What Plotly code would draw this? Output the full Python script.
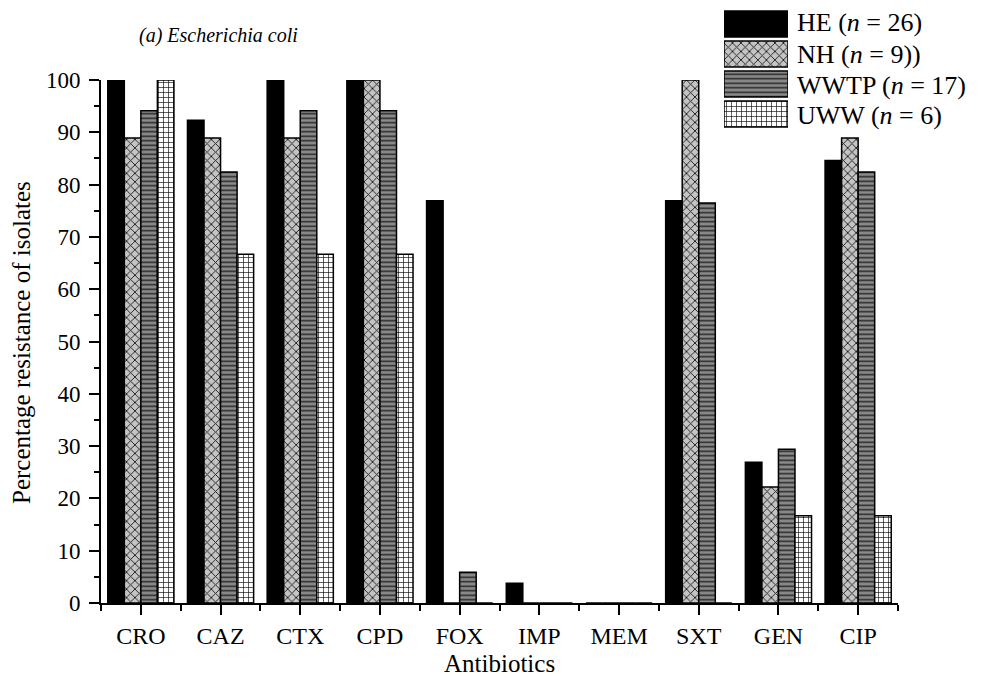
import plotly.graph_objects as go

antibiotics = ["CRO", "CAZ", "CTX", "CPD", "FOX", "IMP", "MEM", "SXT", "GEN", "CIP"]
he   = [100, 92.3, 100, 100, 76.9, 3.8, 0, 76.9, 26.9, 84.6]
nh   = [88.9, 88.9, 88.9, 100, 0, 0, 0, 100, 22.2, 88.9]
wwtp = [94.1, 82.4, 94.1, 94.1, 5.9, 0, 0, 76.5, 29.4, 82.4]
uww  = [100, 66.7, 66.7, 66.7, 0, 0, 0, 0, 16.7, 16.7]
series_names = ["HE (<i>n</i> = 26)", "NH (<i>n</i> = 9))", "WWTP (<i>n</i> = 17)", "UWW (<i>n</i> = 6)"]
yticks = [0, 10, 20, 30, 40, 50, 60, 70, 80, 90, 100]

FONT = "Liberation Serif, Times New Roman, serif"
W, H = 984, 678

styles = [
    dict(color="black", pattern=dict(shape="")),
    dict(color="#c4c4c4", pattern=dict(shape="x", bgcolor="#c4c4c4", fgcolor="#1a1a1a", size=6, solidity=0.28, fillmode="replace")),
    dict(color="#808080", pattern=dict(shape="-", bgcolor="#8a8a8a", fgcolor="#2a2a2a", size=4.5, solidity=0.35, fillmode="replace")),
    dict(color="white", pattern=dict(shape="+", bgcolor="white", fgcolor="#111111", size=5, solidity=0.25, fillmode="replace")),
]

fig = go.Figure()
xs = list(range(len(antibiotics)))
for vals, st, nm in zip([he, nh, wwtp, uww], styles, series_names):
    fig.add_trace(go.Bar(
        x=xs, y=vals, name=nm, showlegend=False,
        marker=dict(color=st["color"], pattern=st["pattern"], line=dict(color="black", width=1.5)),
        xaxis="x", yaxis="y",
    ))

# custom legend swatches (one per series, drawn on a hidden helper axis)
for i, st in enumerate(styles):
    fig.add_trace(go.Bar(
        y=[i], x=[1], orientation="h", width=0.87, offsetgroup="legend", showlegend=False,
        marker=dict(color=st["color"], pattern=st["pattern"], line=dict(color="black", width=1.5)),
        xaxis="x2", yaxis="y2", hoverinfo="skip",
    ))

x0, x1 = 101 / W, 898 / W
y0, y1 = (H - 603) / H, (H - 80) / H

fig.update_layout(
    width=W, height=H,
    margin=dict(l=0, r=0, t=0, b=0, autoexpand=False),
    paper_bgcolor="white", plot_bgcolor="white",
    barmode="group", bargap=0.17, bargroupgap=0,
    font=dict(family=FONT, color="black", size=20),
    xaxis=dict(
        domain=[x0, x1], range=[-0.5, 9.5],
        tickvals=xs, ticktext=antibiotics,
        showline=True, linecolor="black", linewidth=2,
        ticks="outside", ticklen=10, tickwidth=1.5, tickcolor="black",
        minor=dict(tick0=0.5, dtick=1, ticks="outside", ticklen=6, tickwidth=1.5, tickcolor="black"),
        showgrid=False, zeroline=False,
        tickfont=dict(size=24, family=FONT),
        ticklabelstandoff=0,
    ),
    yaxis=dict(
        domain=[y0, y1], range=[0, 100],
        tickvals=yticks,
        showline=True, linecolor="black", linewidth=2,
        ticks="outside", ticklen=10, tickwidth=1.5, tickcolor="black",
        minor=dict(dtick=5, ticks="outside", ticklen=5, tickwidth=1.5, tickcolor="black"),
        showgrid=False, zeroline=False,
        tickfont=dict(size=23, family=FONT),
        ticklabelstandoff=4,
    ),
    xaxis2=dict(domain=[724 / W, 788 / W], range=[0, 1], visible=False, fixedrange=True),
    yaxis2=dict(domain=[(H - 129) / H, (H - 9) / H], range=[3.5, -0.5], visible=False, fixedrange=True),
)

ann = [
    dict(text="<i>(a) Escherichia coli</i>", x=137 / W, y=(H - 35) / H, xanchor="left", yanchor="middle",
         font=dict(size=20, family=FONT)),
    dict(text="Antibiotics", x=(101 + 898) / 2 / W, y=(H - 663) / H, xanchor="center", yanchor="middle",
         font=dict(size=25, family=FONT)),
    dict(text="Percentage resistance of isolates", x=21 / W, y=(H - 343) / H, xanchor="center", yanchor="middle",
         textangle=-90, font=dict(size=25, family=FONT)),
]
for nm, yc in zip(series_names, [23, 54, 85, 115.5]):
    ann.append(dict(text=nm, x=795 / W, y=(H - yc) / H, xanchor="left", yanchor="middle",
                    font=dict(size=26, family=FONT)))
for a in ann:
    a.update(xref="paper", yref="paper", showarrow=False)
fig.update_layout(annotations=ann)

fig.write_html("out.html")
